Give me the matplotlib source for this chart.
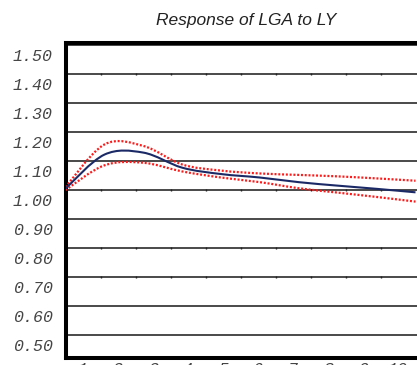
import numpy as np
import matplotlib
matplotlib.use("Agg")
import matplotlib.pyplot as plt
from matplotlib.path import Path
from matplotlib.patches import PathPatch
from matplotlib.transforms import ScaledTranslation

# data (periods 1..10)
periods = np.arange(1, 11)
response = [1.005, 1.122, 1.129, 1.077, 1.055, 1.043, 1.027, 1.015, 1.004, 0.992]
upper = [1.010, 1.157, 1.152, 1.088, 1.067, 1.057, 1.052, 1.047, 1.040, 1.032]
lower = [1.000, 1.085, 1.094, 1.064, 1.043, 1.027, 1.006, 0.991, 0.976, 0.960]

y_ticks = [0.50, 0.60, 0.70, 0.80, 0.90, 1.00, 1.10, 1.20, 1.30, 1.40, 1.50]
x_labels = [str(p) for p in periods]
tick_rows = [1.40, 1.00, 0.80, 0.70]  # rows carrying the little tick marks


def smooth_path(xs, ys):
    # catmull-rom curve turned into cubic bezier segments
    pts = np.column_stack([xs, ys]).astype(float)
    ext = np.vstack([pts[0], pts, pts[-1]])
    verts = [pts[0]]
    codes = [Path.MOVETO]
    for i in range(1, len(ext) - 2):
        p0, p1, p2, p3 = ext[i - 1], ext[i], ext[i + 1], ext[i + 2]
        verts += [p1 + (p2 - p0) / 6, p2 - (p3 - p1) / 6, p2]
        codes += [Path.CURVE4] * 3
    return Path(verts, codes)


W, H = 417, 365
fig = plt.figure(figsize=(W / 100, H / 100), dpi=100)
ax = fig.add_axes([65.5 / W, 1 - 358 / H, (421 - 65.5) / W, (358 - 43) / H])

step = 35 / 38.89
ax.set_xlim(1, 1 + (421 - 65.5) / 38.89)
ax.set_ylim(1 - 168 / 290, 1 + 147 / 290)

for y in y_ticks:
    ax.axhline(y, color="#3a3a3a", lw=1.3, zorder=1)

tick_x = 1 + step * np.arange(1, 10)
for y in tick_rows:
    ax.plot(tick_x, [y] * len(tick_x), ls="none", marker="|", ms=2,
            mew=1.0, color="#222222", zorder=2)

ax.add_patch(PathPatch(smooth_path(periods, upper), fill=False, ec="#ff1a1a",
                       lw=1.6, ls=(0, (0.9, 0.8)), zorder=3))
ax.add_patch(PathPatch(smooth_path(periods, lower), fill=False, ec="#ff1a1a",
                       lw=1.6, ls=(0, (0.9, 0.8)), zorder=3))
ax.add_patch(PathPatch(smooth_path(periods, response), fill=False, ec="#1b2a66",
                       lw=1.5, zorder=4))

for side in ["left", "top", "bottom"]:
    ax.spines[side].set_linewidth(2.9)
    ax.spines[side].set_color("black")
ax.spines["right"].set_visible(False)

tick_font = dict(family=["Liberation Mono", "DejaVu Sans Mono"], style="italic",
                 size=12, color="#454545")
ax.set_yticks(y_ticks)
ax.set_yticklabels([f"{v:.2f}" for v in y_ticks], **tick_font)
ax.set_xticks(1 + step * (np.arange(10) + 0.5))
ax.set_xticklabels(x_labels, **tick_font)
ax.tick_params(axis="both", length=0)
ax.tick_params(axis="y", pad=9)
ax.tick_params(axis="x", pad=3)

shift = ScaledTranslation(0, -10 / 100, fig.dpi_scale_trans)
for lab in ax.get_yticklabels():
    lab.set_transform(lab.get_transform() + shift)

fig.text(246 / W, 1 - 21 / H, "Response of LGA to LY", ha="center", va="center",
         family="Liberation Sans", style="italic", size=12.5, color="#222222")

fig.savefig("out.png", dpi=100)
